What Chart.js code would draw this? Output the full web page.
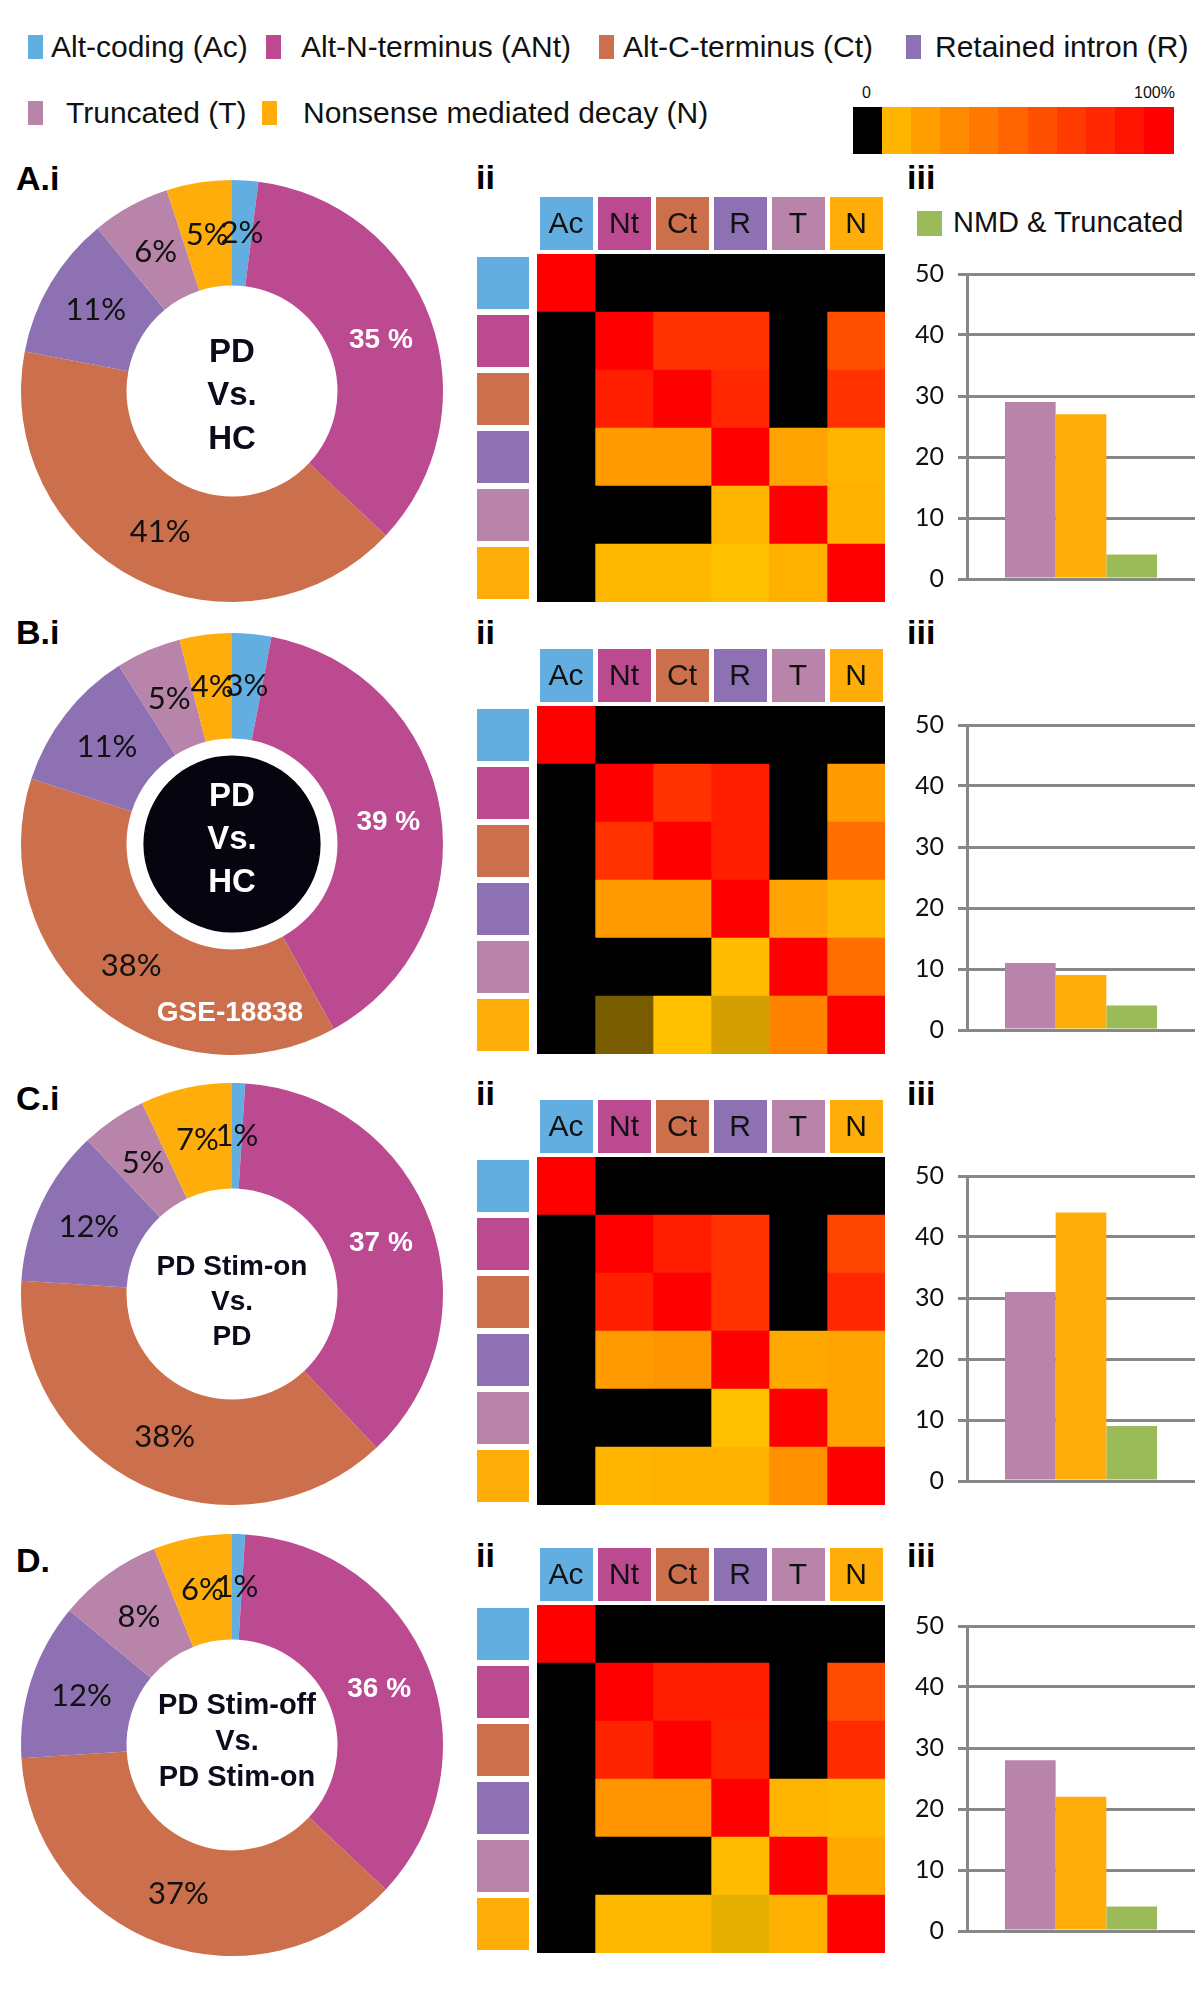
<!DOCTYPE html>
<html>
<head>
<meta charset="utf-8">
<script src="https://cdn.jsdelivr.net/npm/chart.js@4.4.1/dist/chart.umd.min.js"></script>
<style>
  body { margin: 0; background: #fff; }
  #page { position: relative; width: 1200px; height: 2007px; overflow: hidden; font-family: "Liberation Sans", Arial, sans-serif; color: #111; }
  .lab { position: absolute; font-weight: bold; font-size: 34px; line-height: 30px; color: #000; }
  .txt { position: absolute; font-size: 30px; line-height: 30px; white-space: nowrap; color: #111; }
  .sw { position: absolute; width: 15px; height: 24px; }
  .cb { position: absolute; height: 47px; }
  .cbl { position: absolute; font-size: 16px; line-height: 16px; }
</style>
</head>
<body>
<div id="page"></div>
<script>
// categorias e cores
const categories = ['Alt-coding (Ac)', 'Alt-N-terminus (ANt)', 'Alt-C-terminus (Ct)', 'Retained intron (R)', 'Truncated (T)', 'Nonsense mediated decay (N)'];
const shortNames = ['Ac', 'Nt', 'Ct', 'R', 'T', 'N'];
const typeColors = ['#62aee0', '#bc4a91', '#cc6f4c', '#8e71b3', '#b984a9', '#ffad0a'];

// i: percentagens de cada tipo
const shareA = [2, 35, 41, 11, 6, 5];
const shareB = [3, 39, 38, 11, 5, 4];
const shareC = [1, 37, 38, 12, 5, 7];
const shareD = [1, 36, 37, 12, 8, 6];

// textos do centro
const centerA = ['PD', 'Vs.', 'HC'];
const centerB = ['PD', 'Vs.', 'HC'];
const centerC = ['PD Stim-on', 'Vs.', 'PD'];
const centerD = ['PD Stim-off', 'Vs.', 'PD Stim-on'];
const noteB = 'GSE-18838';

// ii: sobreposicao (%) linhas x colunas, 0 = preto
const heatA = [
  [100, 0, 0, 0, 0, 0],
  [0, 100, 75, 75, 0, 60],
  [0, 85, 100, 80, 0, 75],
  [0, 23, 23, 100, 18, 10],
  [0, 0, 0, 10, 100, 12],
  [0, 8, 8, 4, 12, 100]
];
const heatB = [
  [100, 0, 0, 0, 0, 0],
  [0, 100, 75, 85, 0, 23],
  [0, 75, 100, 85, 0, 45],
  [0, 23, 23, 100, 18, 10],
  [0, 0, 0, 6, 100, 45],
  [0, 4, 4, 4, 35, 100]
];
const heatC = [
  [100, 0, 0, 0, 0, 0],
  [0, 100, 85, 75, 0, 65],
  [0, 85, 100, 75, 0, 80],
  [0, 23, 25, 100, 16, 18],
  [0, 0, 0, 4, 100, 18],
  [0, 10, 12, 12, 28, 100]
];
const heatD = [
  [100, 0, 0, 0, 0, 0],
  [0, 100, 85, 85, 0, 62],
  [0, 82, 100, 82, 0, 78],
  [0, 26, 26, 100, 10, 8],
  [0, 0, 0, 6, 100, 16],
  [0, 8, 8, 2, 12, 100]
];
// celulas escurecidas [linha, coluna, fator]
const dimB = [[5, 1, 0.48], [5, 3, 0.83]];
const dimD = [[5, 3, 0.9]];
const scaleSteps = [10, 20, 30, 40, 50, 60, 70, 80, 90, 100];

// iii: contagens
const barLabels = ['Truncated', 'NMD', 'NMD & Truncated'];
const barColors = ['#b984a9', '#ffad0a', '#9bbb59'];
const barA = [29, 27, 4];
const barB = [11, 9, 4];
const barC = [31, 44, 9];
const barD = [28, 22, 4];

const page = document.getElementById('page');

function heatColor(v, k) {
  if (!v) return '#000000';
  k = k || 1;
  const g = 200 * (1 - v / 100);
  return `rgb(${Math.round(255 * k)},${Math.round(g * k)},0)`;
}

function dimFor(dims, i, j) {
  const d = (dims || []).find(e => e[0] === i && e[1] === j);
  return d ? d[2] : 1;
}

function addEl(cls, text, left, top, extra) {
  const el = document.createElement('div');
  el.className = cls;
  if (text) el.textContent = text;
  el.style.left = left + 'px';
  el.style.top = top + 'px';
  if (extra) Object.assign(el.style, extra);
  page.appendChild(el);
  return el;
}

function place(left, top, w, h) {
  const c = document.createElement('canvas');
  c.width = w; c.height = h;
  c.style.cssText = `position:absolute;left:${left}px;top:${top}px;width:${w}px;height:${h}px`;
  page.appendChild(c);
  return c;
}

// legenda de cima
const legendPos = [[28, 51, 35], [266, 301, 35], [599, 623, 35], [906, 935, 35], [28, 66, 101], [262, 303, 101]];
categories.forEach((name, i) => {
  const [sx, tx, y] = legendPos[i];
  addEl('sw', '', sx, y, { background: typeColors[i] });
  addEl('txt', name, tx, y - 3);
});

// barra de cores
const cbw = 320 / 11;
addEl('cb', '', 853, 107, { width: Math.ceil(cbw) + 'px', background: '#000' });
scaleSteps.forEach((v, i) => {
  addEl('cb', '', 853 + cbw * (i + 1), 107, { width: Math.ceil(cbw) + 'px', background: heatColor(v) });
});
addEl('cbl', '0', 862, 85);
addEl('cbl', '100%', 1134, 85);

// plugin: rotulos da rosca
const donutText = {
  id: 'donutText',
  afterDatasetsDraw(chart, args, opts) {
    const { ctx } = chart;
    const meta = chart.getDatasetMeta(0);
    const data = chart.data.datasets[0].data;
    ctx.save();
    ctx.textAlign = 'center';
    ctx.textBaseline = 'middle';
    meta.data.forEach((arc, i) => {
      const p = arc.tooltipPosition();
      if (i === 1) {
        ctx.font = 'bold 28px "Liberation Sans", Arial';
        ctx.fillStyle = '#fff';
        ctx.fillText(data[i] + ' %', p.x, p.y + 3);
      } else {
        ctx.font = '31px Lato, "Open Sans", sans-serif';
        ctx.fillStyle = '#111';
        ctx.fillText(data[i] + '%', p.x, p.y);
      }
    });
    const c = meta.data[0];
    if (opts.disk) {
      ctx.beginPath();
      ctx.arc(c.x, c.y, c.innerRadius * 0.84, 0, Math.PI * 2);
      ctx.fillStyle = '#05040f';
      ctx.fill();
    }
    ctx.font = `bold ${opts.size}px "Liberation Sans", Arial`;
    ctx.fillStyle = opts.disk ? '#fff' : '#0b0b1c';
    const n = opts.lines.length;
    opts.lines.forEach((t, k) => {
      ctx.fillText(t, c.x + (opts.dx || 0), c.y + opts.dy + (k - (n - 1) / 2) * opts.gap);
    });
    if (opts.note) {
      ctx.font = 'bold 28px "Liberation Sans", Arial';
      ctx.fillStyle = '#fff';
      ctx.fillText(opts.note, c.x - 2, c.y + 169);
    }
    ctx.restore();
  }
};

// plugin: caixas coloridas do heatmap
const headerBoxes = {
  id: 'headerBoxes',
  afterDraw(chart) {
    const { ctx, chartArea, scales } = chart;
    ctx.save();
    ctx.font = '30px "Liberation Sans", Arial';
    ctx.textAlign = 'center';
    ctx.textBaseline = 'middle';
    shortNames.forEach((name, j) => {
      const cx = scales.x.getPixelForValue(j + 0.5);
      ctx.fillStyle = typeColors[j];
      ctx.fillRect(cx - 26, chartArea.top - 57, 53, 53);
      ctx.fillStyle = '#111';
      ctx.fillText(name, cx, chartArea.top - 29);
      const cy = scales.y.getPixelForValue(j);
      ctx.fillStyle = typeColors[j];
      ctx.fillRect(chartArea.left - 60, cy - 26, 52, 52);
    });
    ctx.restore();
  }
};

function donutChart(canvas, shares, text) {
  new Chart(canvas, {
    type: 'doughnut',
    data: {
      labels: categories,
      datasets: [{ data: shares, backgroundColor: typeColors, borderWidth: 0, hoverOffset: 0 }]
    },
    options: {
      responsive: false,
      animation: false,
      cutout: '50%',
      plugins: { legend: { display: false }, tooltip: { enabled: false }, donutText: text }
    },
    plugins: [donutText]
  });
}

function heatChart(canvas, values, dims) {
  const datasets = shortNames.map((name, j) => ({
    label: name,
    data: shortNames.map(() => 1),
    backgroundColor: values.map((row, i) => heatColor(row[j], dimFor(dims, i, j))),
    borderWidth: 0,
    barPercentage: 1,
    categoryPercentage: 1
  }));
  new Chart(canvas, {
    type: 'bar',
    data: { labels: shortNames, datasets },
    options: {
      indexAxis: 'y',
      responsive: false,
      animation: false,
      layout: { padding: { left: 69, top: 66, right: 5, bottom: 6 } },
      scales: {
        x: { stacked: true, min: 0, max: 6, display: false },
        y: { stacked: true, display: false }
      },
      plugins: { legend: { display: false }, tooltip: { enabled: false } }
    },
    plugins: [headerBoxes]
  });
}

function barChart(canvas, values) {
  new Chart(canvas, {
    type: 'bar',
    data: {
      labels: [''],
      datasets: barLabels.map((name, i) => ({
        label: name,
        data: [values[i]],
        backgroundColor: barColors[i],
        borderWidth: 0,
        categoryPercentage: 0.667,
        barPercentage: 1
      }))
    },
    options: {
      responsive: false,
      animation: false,
      layout: { padding: { top: 20, bottom: 20, right: 3, left: 0 } },
      scales: {
        x: { display: false },
        y: {
          min: 0, max: 50,
          ticks: { stepSize: 10, color: '#111', font: { family: 'Lato', size: 25 }, padding: 14 },
          grid: { color: '#878787', lineWidth: 3, tickLength: 9 },
          border: { color: '#878787', width: 3 },
          afterFit(s) { s.width = 67; }
        }
      },
      plugins: { legend: { display: false }, tooltip: { enabled: false } }
    }
  });
}

// linhas do painel
const rows = [
  { tag: 'A.i', share: shareA, center: { lines: centerA, size: 33, gap: 43.5, dy: 5 }, heat: heatA, dims: null, bars: barA,
    cy: 391, gridTop: 254, y50: 265, labTop: 163, subTop: 162 },
  { tag: 'B.i', share: shareB, center: { lines: centerB, size: 33, gap: 43, dy: -4, disk: true, note: noteB }, heat: heatB, dims: dimB, bars: barB,
    cy: 844, gridTop: 706, y50: 716, labTop: 617, subTop: 617 },
  { tag: 'C.i', share: shareC, center: { lines: centerC, size: 28, gap: 35, dy: 8 }, heat: heatC, dims: null, bars: barC,
    cy: 1294, gridTop: 1157, y50: 1167, labTop: 1083, subTop: 1078 },
  { tag: 'D.', share: shareD, center: { lines: centerD, size: 29, gap: 36, dy: -3, dx: 5 }, heat: heatD, dims: dimD, bars: barD,
    cy: 1745, gridTop: 1605, y50: 1617, labTop: 1545, subTop: 1540 }
];

rows.forEach(r => {
  addEl('lab', r.tag, 16, r.labTop);
  addEl('lab', 'ii', 476, r.subTop);
  addEl('lab', 'iii', 907, r.subTop);
  donutChart(place(11, r.cy - 211, 442, 422), r.share, r.center);
  heatChart(place(468, r.gridTop - 66, 422, 420), r.heat, r.dims);
  barChart(place(900, r.y50 - 20, 298, 363), r.bars);
});

// legenda do grafico de barras
addEl('sw', '', 917, 211, { background: barColors[2], width: '25px', height: '25px' });
addEl('txt', barLabels[2], 953, 207, { fontSize: '29px' });
</script>
</body>
</html>
